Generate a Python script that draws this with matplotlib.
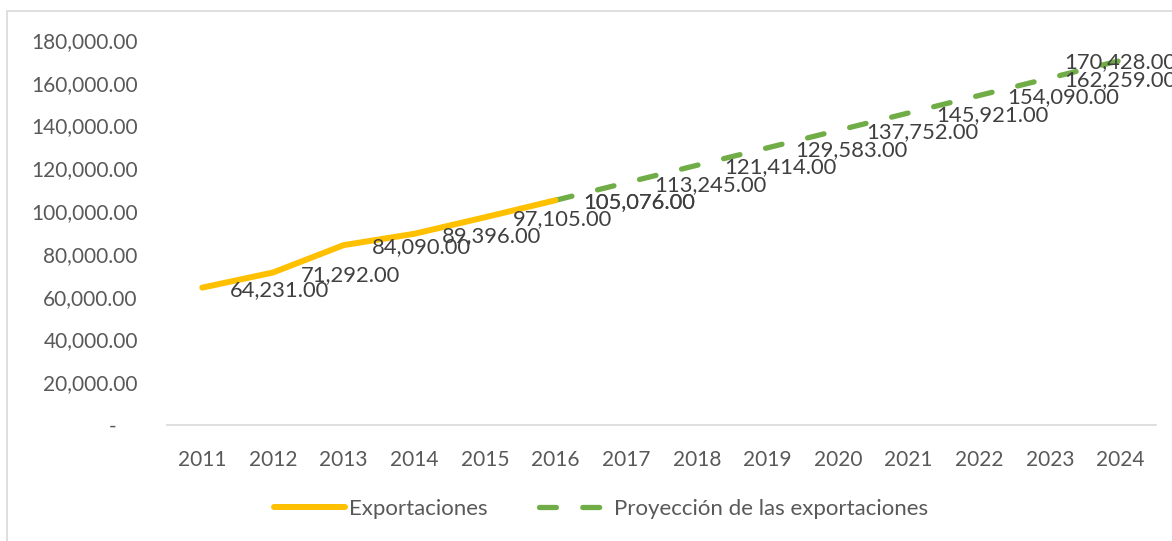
import matplotlib
matplotlib.use("Agg")
import matplotlib.pyplot as plt
from matplotlib.ticker import FuncFormatter, MultipleLocator
from matplotlib.patches import Rectangle

plt.rcParams['font.family'] = ['Lato', 'DejaVu Sans']

# data
years = ['2011', '2012', '2013', '2014', '2015', '2016', '2017',
         '2018', '2019', '2020', '2021', '2022', '2023', '2024']
export_years = years[:6]
export_vals = [64231, 71292, 84090, 89396, 97105, 105076]
proj_years = years[5:]
proj_vals = [105076, 113245, 121414, 129583, 137752, 145921, 154090, 162259, 170428]

YELLOW = '#FFC000'
GREEN = '#70AD47'
TICK_C = '#595959'
LABEL_C = '#404040'

W, H = 1172, 541
fig = plt.figure(figsize=(W / 100, H / 100), dpi=100)
ax = fig.add_axes([167 / W, (H - 425) / H, 989 / W, 385 / H])

xi = {y: i for i, y in enumerate(years)}
ex = [xi[y] for y in export_years]
px = [xi[y] for y in proj_years]

ax.plot(px, proj_vals, color=GREEN, lw=3.8, dashes=(3.2, 5.0),
        dash_capstyle='round', label='Proyección de las exportaciones', zorder=2)
ax.plot(ex, export_vals, color=YELLOW, lw=4.3, solid_capstyle='round',
        solid_joinstyle='round', label='Exportaciones', zorder=3)

ax.set_xlim(-0.5, len(years) - 0.5)
ax.set_ylim(0, 180000)
ax.yaxis.set_major_locator(MultipleLocator(20000))
ax.yaxis.set_major_formatter(FuncFormatter(
    lambda v, p: '-    ' if v == 0 else f'{v:,.2f}'))
ax.set_xticks(range(len(years)))
ax.set_xticklabels(years)

for s in ['left', 'right', 'top']:
    ax.spines[s].set_visible(False)
ax.spines['bottom'].set_color('#D9D9D9')
ax.spines['bottom'].set_linewidth(1.2)
ax.tick_params(axis='both', length=0, labelsize=15, colors=TICK_C)
ax.tick_params(axis='y', pad=21)
ax.tick_params(axis='x', pad=18)

# data labels, Excel "right" position
labels = []
for xs, vs in [(ex, export_vals), (px, proj_vals)]:
    for x, v in zip(xs, vs):
        t = ax.annotate(f'{v:,.2f}', (x, v), xytext=(20, -1.5),
                        textcoords='offset points', ha='left', va='center',
                        fontsize=15.8, color=LABEL_C, zorder=4,
                        annotation_clip=False)
        labels.append(t)

# keep labels inside the chart area like Excel does
fig.canvas.draw()
r = fig.canvas.get_renderer()
for t in labels:
    bb = t.get_window_extent(r)
    if bb.x1 > W + 4:
        ox, oy = t.xyann
        t.xyann = (ox - (bb.x1 - W - 4) * 72 / 100, oy)

# legend, Exportaciones first
handles, lbls = ax.get_legend_handles_labels()
leg = fig.legend(handles[::-1], lbls[::-1], loc='center',
                 bbox_to_anchor=(601 / W, (H - 509) / H),
                 ncol=2, frameon=False, fontsize=16, handlelength=3.2,
                 handletextpad=0.2, columnspacing=2.3)
for txt in leg.get_texts():
    txt.set_color(TICK_C)

# chart border
fig.patches.append(Rectangle((7 / W, -0.05), 1.1, 1.05 - 11 / H,
                             transform=fig.transFigure, fill=False,
                             edgecolor='#D9D9D9', lw=1.2))

fig.savefig('out.png', dpi=100)
